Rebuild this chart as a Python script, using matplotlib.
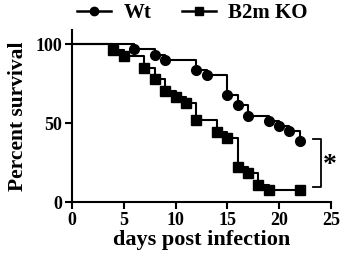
import matplotlib.pyplot as plt

plt.rcParams['font.family'] = ['Liberation Serif', 'DejaVu Serif']
plt.rcParams['font.weight'] = 'bold'

# === Data ===
wt_days = [0, 6, 8, 9, 12, 13, 15, 16, 17, 19, 20, 21, 22]
wt_surv = [100, 96.8, 93.5, 90.3, 83.9, 80.6, 67.7, 61.3, 54.8, 51.6, 48.4, 45.2, 38.7]
ko_days = [0, 4, 5, 7, 8, 9, 10, 11, 12, 14, 15, 16, 17, 18, 19, 22]
ko_surv = [100, 96.3, 92.6, 85.2, 77.8, 70.4, 66.7, 63.0, 51.9, 44.4, 40.7, 22.2, 18.5, 11.1, 7.4, 7.4]

x_ticks = [0, 5, 10, 15, 20, 25]
y_ticks = [0, 50, 100]

# === Plot ===
fig = plt.figure(figsize=(3.44, 2.67), dpi=100)
ax = fig.add_axes([0.209, 0.243, 0.753, 0.644])

ax.step(wt_days, wt_surv, where='post', color='black', lw=1.5)
ax.plot(wt_days[1:], wt_surv[1:], 'o', color='black', ms=7)
ax.step(ko_days, ko_surv, where='post', color='black', lw=1.5)
ax.plot(ko_days[1:], ko_surv[1:], 's', color='black', ms=7)

# legend handles
h_wt, = ax.plot([], [], '-o', color='black', lw=1.8, ms=6)
h_ko, = ax.plot([], [], '-s', color='black', lw=1.8, ms=6)
fig.legend([h_wt, h_ko], ['Wt', 'B2m KO'], loc='center', bbox_to_anchor=(0.56, 0.95),
           ncol=2, frameon=False, fontsize=15, handlelength=1.6, columnspacing=1.5,
           handletextpad=0.6, borderpad=0)

# significance bracket
ax.plot([23.3, 24.0, 24.0, 23.3], [39.8, 39.8, 9.3, 9.3], color='black', lw=1.3, clip_on=False)
ax.text(24.9, 23, '*', fontsize=20, ha='center', va='center')

ax.set_xlim(0, 25)
ax.set_ylim(0, 109)
ax.set_xticks(x_ticks)
ax.set_yticks(y_ticks)
ax.tick_params(direction='out', length=5, width=1.5, labelsize=13, pad=2)
for s in ['top', 'right']:
    ax.spines[s].set_visible(False)
for s in ['left', 'bottom']:
    ax.spines[s].set_linewidth(1.5)

ax.set_xlabel('days post infection', fontsize=16, fontweight='bold', labelpad=1)
ax.set_ylabel('Percent survival', fontsize=15.5, fontweight='bold', labelpad=5)

fig.savefig('out.png', dpi=100)
